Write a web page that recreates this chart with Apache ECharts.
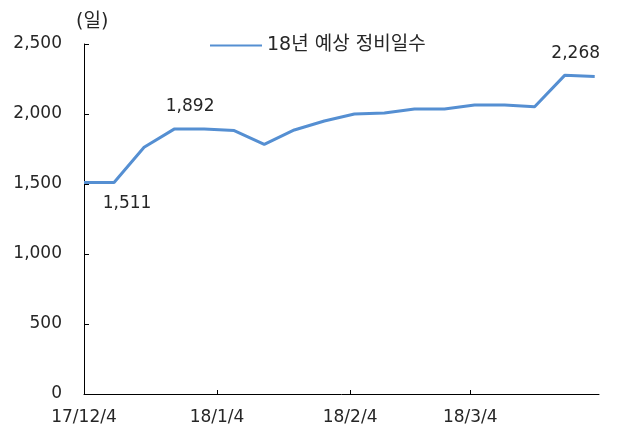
<!DOCTYPE html>
<html>
<head>
<meta charset="utf-8">
<script src="https://cdn.jsdelivr.net/npm/echarts@6/dist/echarts.min.js"></script>
<style>
html,body{margin:0;padding:0;background:#fff;}
#c{width:618px;height:434px;}
</style>
</head>
<body>
<div id="c"></div>
<script>
const seriesName = '18년 예상 정비일수';
const dates = ['2017-12-04','2017-12-11','2017-12-18','2017-12-25','2018-01-01','2018-01-08','2018-01-15','2018-01-22','2018-01-29','2018-02-05','2018-02-12','2018-02-19','2018-02-26','2018-03-05','2018-03-12','2018-03-19','2018-03-26','2018-04-02'];
const values = [1511, 1511, 1762, 1892, 1892, 1882, 1783, 1886, 1950, 2000, 2007, 2036, 2036, 2064, 2064, 2052, 2276, 2268];
const tickDates = ['2017-12-04','2018-01-04','2018-02-04','2018-03-04'];
const tickLabels = ['17/12/4','18/1/4','18/2/4','18/3/4'];
const axisEndDate = '2018-04-03';
const labelledIdx = [1, 3, 17];

const FONT = '"DejaVu Sans","Noto Sans CJK KR",sans-serif';
const TXT = '#262626';
function dayOff(s){
  const p = s.split('-').map(Number);
  return Math.round((Date.UTC(p[0],p[1]-1,p[2]) - Date.UTC(2017,11,4)) / 86400000);
}
const tickVals = tickDates.map(dayOff);
const labelMap = {};
tickVals.forEach((v,i)=>{ labelMap[v] = tickLabels[i]; });
const fmt = v => String(v).replace(/\B(?=(\d{3})+(?!\d))/g, ',');

const labelStyles = {
  1: {position:'bottom', distance: 13, offset:[13, 0]},
  3: {position:'top', distance: 14, offset:[16, 0]},
  17: {position:'top', distance: 14, offset:[-19, 0]}
};
const data = dates.map((d,i)=>{
  const item = {value:[dayOff(d), values[i]]};
  if (labelledIdx.includes(i)) {
    item.label = Object.assign({show:true, formatter: p => fmt(p.value[1]),
      fontSize:17, fontFamily:FONT, color:TXT}, labelStyles[i]);
  }
  return item;
});

const chart = echarts.init(document.getElementById('c'), null, {renderer:'canvas'});
chart.setOption({
  animation:false,
  backgroundColor:'#fff',
  grid:{left:84, right:19, top:44, bottom:40, containLabel:false},
  legend:{
    data:[seriesName], left:209, top:36, padding:0, itemWidth:52, itemHeight:14, itemGap:5,
    itemStyle:{opacity:0},
    textStyle:{fontSize:19, fontFamily:FONT, color:TXT}
  },
  graphic:[{type:'text', left:76, top:13, style:{text:'(일)', fontSize:19, fontFamily:FONT, fill:TXT}}],
  xAxis:{
    type:'value', min:0, max:dayOff(axisEndDate),
    axisLine:{show:true, lineStyle:{color:'#000', width:1}},
    axisTick:{show:true, inside:true, length:4, customValues:tickVals, lineStyle:{color:'#000'}},
    axisLabel:{customValues:tickVals, formatter:v=>labelMap[v]||'', fontSize:17, fontFamily:FONT, color:TXT, margin:15},
    splitLine:{show:false}
  },
  yAxis:{
    type:'value', min:0, max:2500, interval:500,
    axisLine:{show:true, lineStyle:{color:'#000', width:1}},
    axisTick:{show:true, inside:true, length:5, lineStyle:{color:'#000'}},
    axisLabel:{formatter:v=>fmt(v), fontSize:17, fontFamily:FONT, color:TXT, margin:22},
    splitLine:{show:false}
  },
  series:[{
    name:seriesName, type:'line', data:data, symbol:'circle', symbolSize:0, showSymbol:true,
    lineStyle:{color:'#558fd2', width:3}, itemStyle:{color:'#558fd2'}
  }]
});
</script>
</body>
</html>
